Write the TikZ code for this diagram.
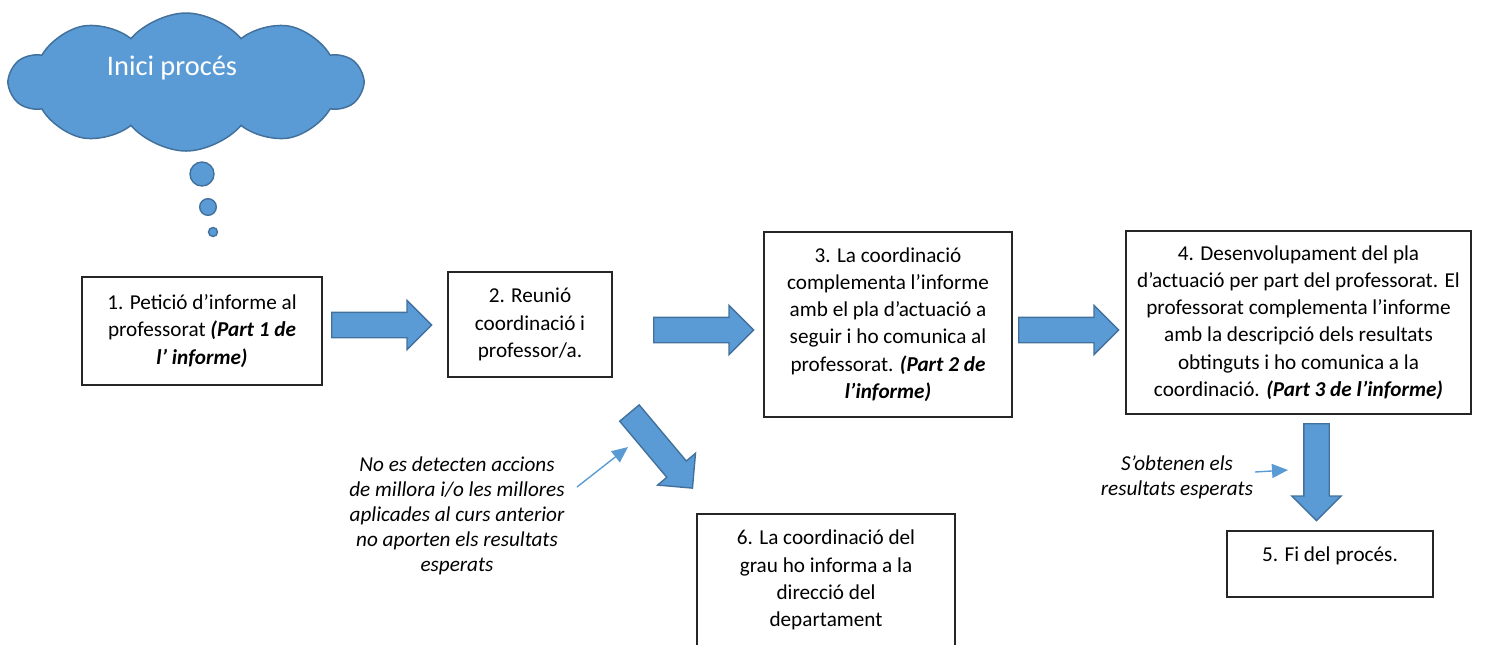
\documentclass[tikz,border=0pt]{standalone}
\usepackage{fontspec}
\setmainfont{Carlito}
\usetikzlibrary{shapes.arrows,shapes.symbols,arrows.meta}
\definecolor{officeblue}{RGB}{91,155,213}
\definecolor{officeline}{RGB}{65,113,156}

\begin{document}
\begin{tikzpicture}[x=0.5pt,y=-0.5pt,
    stepbox/.style ={rectangle, draw=black!85, line width=0.65pt, align=center, inner sep=0pt,
      font=\fontsize{10.6}{13.6}\selectfont},
    blockarrow/.style ={single arrow, draw=officeline, fill=officeblue, line width=0.7pt,
      minimum height=50pt, single arrow head extend=6pt, inner sep=0pt, inner ysep=6pt,
      text height=0pt, text depth=0pt, anchor=tail},
    note/.style ={align=center, inner sep=0pt, font=\fontsize{10.6}{12.5}\selectfont\itshape},
    pointer/.style ={draw=officeblue, line width=0.7pt, -{Triangle[length=8pt,width=7pt]}},
    bubble/.style ={circle, draw=officeline, fill=officeblue, line width=0.7pt, inner sep=0pt}]
   \useasboundingbox (0,0) rectangle (1494,644);

   \node[cloud, cloud puffs=10, cloud puff arc=100, cloud ignores aspect, draw=officeline, fill=officeblue,
     line width=0.75pt, minimum width=176pt, minimum height=69pt] (inici) at (186,82) {};
   \node[font=\fontsize{14.2}{17}\selectfont, text=white] (inicitext) at (172,68) {Inici procés};
   \node[bubble, minimum size=12pt] (bubbleA) at (202,174) {};
   \node[bubble, minimum size=8.3pt] (bubbleB) at (208,207) {};
   \node[bubble, minimum size=4.5pt] (bubbleC) at (213,232) {};

   \node[stepbox, minimum width=120pt, minimum height=54pt] (peticio) at (202,331)
     {1. Petició d’informe al\\ professorat \textbf{\textit{(Part 1 de}}\\ \textbf{\textit{l’ informe)}}};
   \node[stepbox, minimum width=82pt, minimum height=52.5pt] (reunio) at (530,324.5)
     {2. Reunió\\ coordinació i\\ professor/a.};
   \node[stepbox, minimum width=124pt, minimum height=92.5pt] (pla) at (888,324.5)
     {3. La coordinació\\ complementa l’informe\\ amb el pla d’actuació a\\ seguir i ho comunica al\\
      professorat. \textbf{\textit{(Part 2 de}}\\ \textbf{\textit{l’informe)}}};
   \node[stepbox, minimum width=172.5pt, minimum height=91.5pt] (desenvol) at (1298.5,322.5)
     {4. Desenvolupament del pla\\ d’actuació per part del professorat. El\\ professorat complementa l’informe\\
      amb la descripció dels resultats\\ obtinguts i ho comunica a la\\ coordinació. \textbf{\textit{(Part 3 de l’informe)}}};
   \node[stepbox, minimum width=103pt, minimum height=33pt, text height=8pt, text depth=11pt] (fi) at (1330,564)
     {5. Fi del procés.};
   \node[stepbox, minimum width=129pt, minimum height=66pt] (direccio) at (826,580)
     {6. La coordinació del\\ grau ho informa a la\\ direcció del\\ departament};

   \node[blockarrow] (arrowA) at (331,325) {};
   \node[blockarrow] (arrowB) at (653,330) {};
   \node[blockarrow] (arrowC) at (1018,330) {};
   \node[blockarrow, rotate=-90, minimum height=48.5pt] (arrowD) at (1316.5,423) {};
   \node[blockarrow, rotate=-50, minimum height=49pt] (arrowE) at (629,412.5) {};

   \node[note] (nomillora) at (457,516)
     {No es detecten accions\\ de millora i/o les millores\\ aplicades al curs anterior\\ no aporten els resultats\\ esperats};
   \node[note] (resultats) at (1177,477.5) {S’obtenen els\\ resultats esperats};

   \coordinate (nomilloraA) at (577,487);
   \coordinate (nomilloraB) at (628,447);
   \coordinate (resultatsA) at (1255,472);
   \coordinate (resultatsB) at (1288,470);
   \draw[pointer] (nomilloraA) to (nomilloraB);
   \draw[pointer] (resultatsA) to (resultatsB);
\end{tikzpicture}
\end{document}
